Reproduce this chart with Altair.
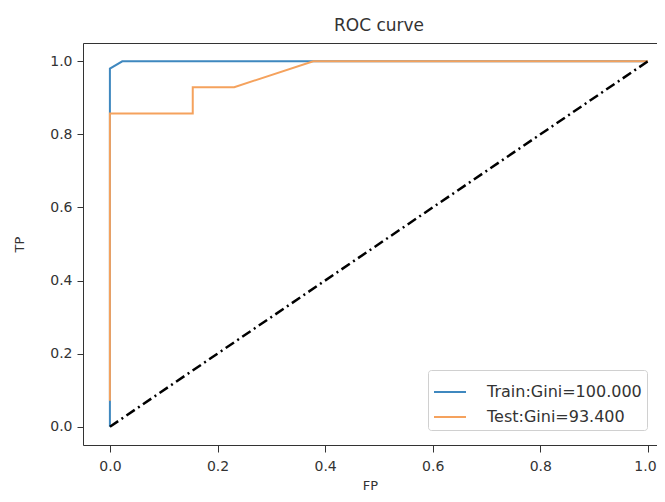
import altair as alt
import pandas as pd

train_fp = [0.0, 0.0, 0.0, 0.023, 1.0]
train_tp = [0.0, 0.03, 0.98, 1.0, 1.0]
test_fp = [0.0, 0.0, 0.154, 0.154, 0.231, 0.378, 1.0]
test_tp = [0.071, 0.857, 0.857, 0.929, 0.929, 1.0, 1.0]
diag_fp = [0.0, 1.0]
diag_tp = [0.0, 1.0]
train_label = "Train:Gini=100.000"
test_label = "Test:Gini=93.400"
x_ticks = [0.0, 0.2, 0.4, 0.6, 0.8, 1.0]
y_ticks = [0.0, 0.2, 0.4, 0.6, 0.8, 1.0]

train_df = pd.DataFrame({"FP": train_fp, "TP": train_tp, "series": train_label, "o": range(len(train_fp))})
test_df = pd.DataFrame({"FP": test_fp, "TP": test_tp, "series": test_label, "o": range(len(test_fp))})
diag_df = pd.DataFrame({"FP": diag_fp, "TP": diag_tp, "o": range(len(diag_fp))})

FONT = "DejaVu Sans"
xscale = alt.Scale(domain=[-0.05, 1.0169], nice=False, zero=False)
yscale = alt.Scale(domain=[-0.05, 1.05], nice=False, zero=False)
color_scale = alt.Scale(domain=[train_label, test_label], range=["#3f88bf", "#f5a25d"])

x_axis = alt.Axis(values=x_ticks, format=".1f", title="FP", grid=False, tickSize=7,
                  labelPadding=7, titlePadding=6, domainColor="#333", tickColor="#333",
                  labelColor="#333", titleColor="#333", labelFontSize=14, titleFontSize=13,
                  titleFontWeight="normal", labelFont=FONT, titleFont=FONT,
                  labelOffset=alt.condition("datum.value === 1", alt.value(-3), alt.value(0)))
y_axis = alt.Axis(values=y_ticks, format=".1f", title="TP", grid=False, tickSize=6,
                  labelPadding=5, titlePadding=23, domainColor="#333", tickColor="#333",
                  labelColor="#333", titleColor="#333", labelFontSize=14, titleFontSize=13,
                  titleFontWeight="normal", labelFont=FONT, titleFont=FONT)
top_axis = alt.Axis(orient="top", labels=False, ticks=False, title=None, grid=False,
                    domainColor="#333", minExtent=0, maxExtent=0)

legend = alt.Legend(title=None, orient="none", legendX=345, legendY=327,
                    symbolType="stroke", symbolSize=1024, symbolStrokeWidth=2,
                    labelFontSize=16, labelFont=FONT, labelColor="#333", labelOffset=20,
                    rowPadding=-3, padding=5, fillColor="white", strokeColor="#d0d0d0",
                    cornerRadius=3)

train = alt.Chart(train_df).mark_line(strokeWidth=2).encode(
    x=alt.X("FP:Q", scale=xscale, axis=x_axis),
    y=alt.Y("TP:Q", scale=yscale, axis=y_axis),
    order="o:Q",
    color=alt.Color("series:N", scale=color_scale, legend=legend),
)
test = alt.Chart(test_df).mark_line(strokeWidth=2).encode(
    x=alt.X("FP:Q", scale=xscale, axis=None),
    y=alt.Y("TP:Q", scale=yscale, axis=None),
    order="o:Q",
    color=alt.Color("series:N", scale=color_scale, legend=legend),
)
diag = alt.Chart(diag_df).mark_line(strokeWidth=2.5, color="black", strokeDash=[10, 4, 2, 4]).encode(
    x=alt.X("FP:Q", scale=xscale, axis=top_axis),
    y=alt.Y("TP:Q", scale=yscale, axis=None),
    order="o:Q",
)

chart = alt.layer(train, test, diag).resolve_axis(x="independent", y="independent").properties(
    width=574,
    height=402,
    autosize=alt.AutoSizeParams(type="none"),
    padding={"left": 75, "top": 35, "right": 0, "bottom": 49},
    title=alt.TitleParams("ROC curve", fontSize=17, font=FONT, fontWeight="normal",
                          color="#333", dx=9, offset=-5, baseline="alphabetic"),
).configure_view(stroke=None).configure(background="white")

chart.save("out.html", embed_options={"renderer": "svg", "actions": False})
